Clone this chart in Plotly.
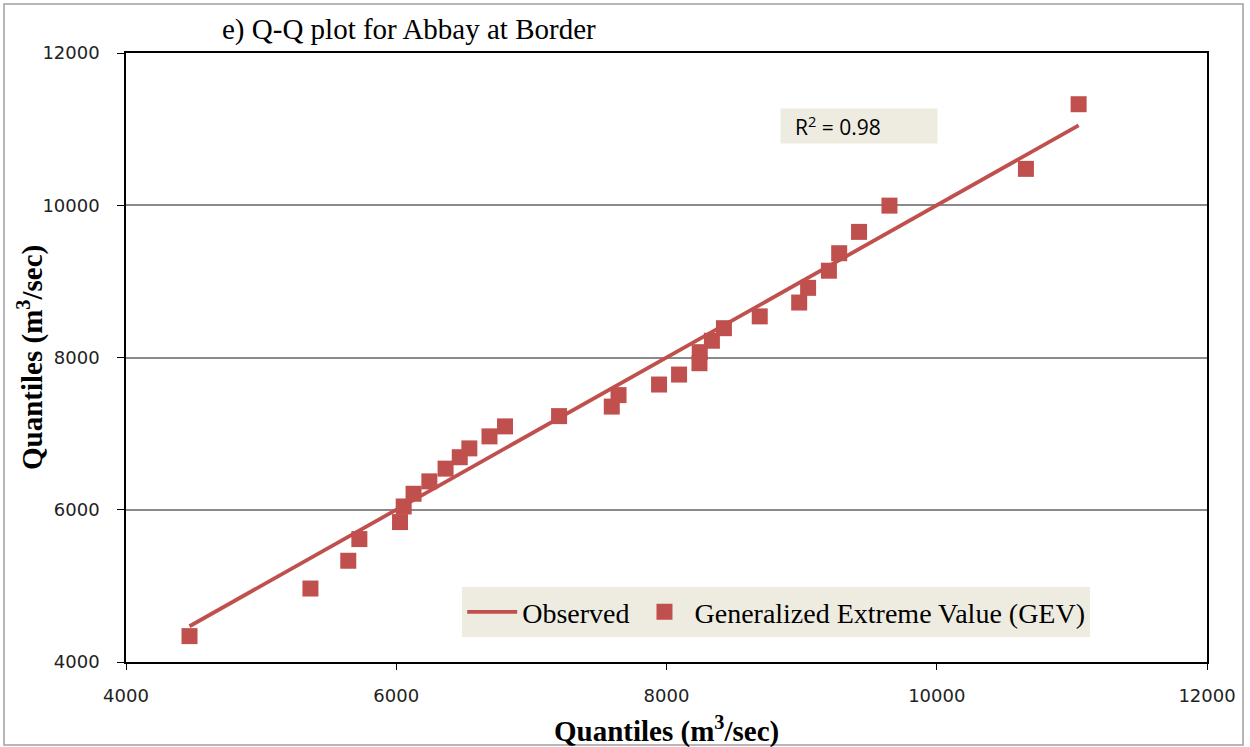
import plotly.graph_objects as go

# Observed quantiles (m3/sec), sorted ascending
observed = [4470, 5365, 5645, 5727, 6028, 6055, 6128, 6245, 6365, 6470, 6541,
            6690, 6805, 7205, 7595, 7645, 7945, 8093, 8244, 8246, 8336, 8425,
            8690, 8982, 9048, 9202, 9278, 9425, 9650, 10660, 11050]
# Matching quantiles of the fitted GEV distribution (m3/sec)
gev = [4340, 4965, 5330, 5615, 5838, 6043, 6210, 6373, 6540, 6690, 6806,
       6964, 7095, 7230, 7355, 7506, 7645, 7776, 7925, 8070, 8220, 8385,
       8540, 8722, 8915, 9140, 9370, 9650, 9995, 10478, 11327]

tick_vals = [4000, 6000, 8000, 10000, 12000]
tick_text = ["4000", "6000", "8000", "10000", "12000"]

title_text = "e) Q-Q plot for Abbay at Border"
axis_label = "<b>Quantiles (m<sup>3</sup>/sec)</b>"
r2_text = "&nbsp;&nbsp;R<sup>2</sup> = 0.98"

RED = "#C0504D"
TAN = "#EEECE1"
SERIF = "Liberation Serif, Times New Roman, serif"
SANS = "DejaVu Sans, Liberation Sans, sans-serif"

fig = go.Figure()

# Observed vs observed: the reference 1:1 line
fig.add_trace(go.Scatter(
    x=observed, y=observed, mode="lines", name="Observed",
    line=dict(color=RED, width=3.8),
))
# Observed vs GEV quantiles
fig.add_trace(go.Scatter(
    x=observed, y=gev, mode="markers", name="Generalized Extreme Value (GEV)",
    marker=dict(symbol="square", size=16, color=RED, line=dict(width=0)),
))

axis_common = dict(
    range=[4000, 12000],
    tickvals=tick_vals, ticktext=tick_text,
    showline=True, linecolor="black", linewidth=1.5, mirror=True,
    ticks="outside", tickcolor="black", tickwidth=1.2,
    tickfont=dict(family=SANS, size=18, color="#222222"),
    zeroline=False,
)

fig.update_xaxes(**axis_common, showgrid=False, ticklen=6, ticklabelstandoff=11)
fig.update_yaxes(**axis_common, showgrid=True, gridcolor="#8A8A8A", gridwidth=1.5,
                 ticklen=7, ticklabelstandoff=14)

fig.update_layout(
    width=1250, height=747,
    margin=dict(l=126, r=43, t=53, b=85),
    paper_bgcolor="white", plot_bgcolor="white",
    showlegend=True,
    legend=dict(
        orientation="h",
        x=0.311, y=0.123, xanchor="left", yanchor="top",
        bgcolor=TAN, borderwidth=0,
        font=dict(family=SERIF, size=28, color="black"),
        itemwidth=50,
    ),
    title=dict(
        text=title_text,
        x=222 / 1250, xanchor="left", xref="container",
        y=1 - 29 / 747, yanchor="middle", yref="container",
        font=dict(family=SERIF, size=29, color="black"),
    ),
    annotations=[
        dict(text=axis_label, xref="paper", yref="paper",
             x=(666 - 126) / 1081, y=(662 - 729) / 609,
             xanchor="center", yanchor="middle", showarrow=False,
             font=dict(family=SERIF, size=29, color="black")),
        dict(text=axis_label, xref="paper", yref="paper",
             x=(31 - 126) / 1081, y=(662 - 358) / 609, textangle=-90,
             xanchor="center", yanchor="middle", showarrow=False,
             font=dict(family=SERIF, size=29, color="black")),
        dict(text=r2_text, xref="x", yref="y",
             x=9421, y=11041, xanchor="center", yanchor="middle",
             showarrow=False, bgcolor=TAN, width=150, height=28,
             borderpad=3, align="left",
             font=dict(family="Open Sans, Liberation Sans, sans-serif", size=21, color="black")),
    ],
    shapes=[
        # thin frame around the whole chart
        dict(type="rect", xref="paper", yref="paper",
             x0=(4 - 126) / 1081, x1=(1243 - 126) / 1081,
             y0=(662 - 745) / 609, y1=(662 - 4) / 609,
             line=dict(color="#A0A0A0", width=1.5), fillcolor="rgba(0,0,0,0)",
             layer="below"),
    ],
)

fig.write_html("out.html")
